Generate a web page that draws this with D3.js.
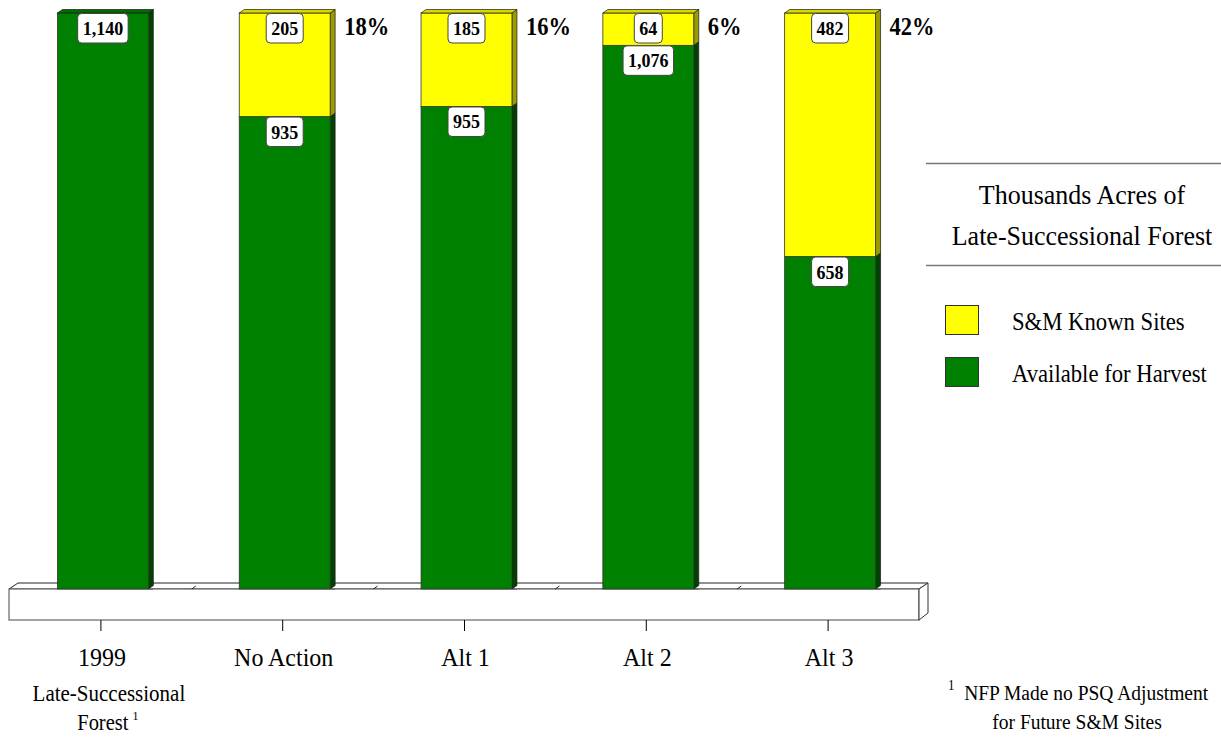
<!DOCTYPE html>
<html>
<head>
<meta charset="utf-8">
<script src="https://cdn.jsdelivr.net/npm/d3@7"></script>
<style>
  html, body { margin: 0; padding: 0; background: #fff; }
  svg { display: block; }
  text { font-family: "Liberation Serif", "Times New Roman", serif; fill: #000; }
</style>
</head>
<body>
<svg id="chart" width="1221" height="738"></svg>
<script>
// Late-successional forest acreage (thousands of acres) by alternative
const categories = ["1999", "No Action", "Alt 1", "Alt 2", "Alt 3"];
const availableForHarvest = [1140, 935, 955, 1076, 658];
const smKnownSites = [0, 205, 185, 64, 482];
const seriesNames = ["S&M Known Sites", "Available for Harvest"];
const subLabels = [["Late-Successional", "Forest"], [], [], [], []];

const W = 1221, H = 738;
const svg = d3.select("#chart");

const floorY = 589;       // front edge of the platform top
const depthX = 5, depthY = 3.5;

const x = d3.scaleBand()
  .domain(categories)
  .range([12, 921])
  .paddingInner(0.5)
  .paddingOuter(0.25);

const y = d3.scaleLinear()
  .domain([0, 1140])
  .range([floorY, 13]);

const colors = {
  green: { front: "#008000", side: "#004200", top: "#006c00" },
  yellow: { front: "#ffff00", side: "#9c9c00", top: "#d8d800" }
};

// Text with the slightly tall serif look of the original
function addText(parent, px, py, str, size, anchor, weight) {
  return parent.append("text")
    .attr("transform", `translate(${px},${py}) scale(1,1.08)`)
    .attr("text-anchor", anchor || "middle")
    .style("font-size", size + "px")
    .style("font-weight", weight || "normal")
    .text(str);
}

// ---- Platform (floor) ----
const floor = svg.append("g").attr("class", "floor");
const fx0 = 9, fx1 = 919, fBottom = 620;
floor.append("polygon")
  .attr("points", [[fx0, floorY], [fx0 + 9, floorY - 6], [fx1 + 9, floorY - 6], [fx1, floorY]].join(" "))
  .attr("fill", "#fff").attr("stroke", "#222").attr("stroke-width", 1);
floor.append("rect")
  .attr("x", fx0).attr("y", floorY).attr("width", fx1 - fx0).attr("height", fBottom - floorY)
  .attr("fill", "#fff").attr("stroke", "#666").attr("stroke-width", 1.2);
floor.append("polygon")
  .attr("points", [[fx1, floorY], [fx1 + 9, floorY - 6], [fx1 + 9, fBottom - 7], [fx1, fBottom]].join(" "))
  .attr("fill", "#fff").attr("stroke", "#333").attr("stroke-width", 1);

// small gridline stubs on the floor between categories
categories.slice(1).forEach(c => {
  const bx = x(c) - x.step() * x.paddingInner() / 2;
  floor.append("line")
    .attr("x1", bx - 2).attr("y1", floorY).attr("x2", bx + 2).attr("y2", floorY - 3)
    .attr("stroke", "#222").attr("stroke-width", 1);
});

// category ticks below the platform
categories.forEach(c => {
  const cx = x(c) + x.bandwidth() / 2 - 2;
  floor.append("line")
    .attr("x1", cx).attr("y1", fBottom).attr("x2", cx).attr("y2", fBottom + 11)
    .attr("stroke", "#000").attr("stroke-width", 1);
});

// ---- Stacked 3D bars ----
const stackData = categories.map((c, i) => ({
  cat: c,
  segments: [
    { key: "green", v0: 0, v1: availableForHarvest[i], value: availableForHarvest[i] },
    { key: "yellow", v0: availableForHarvest[i], v1: availableForHarvest[i] + smKnownSites[i], value: smKnownSites[i] }
  ].filter(s => s.value > 0)
}));

const bars = svg.append("g").attr("class", "bars");
stackData.forEach(d => {
  const bx = x(d.cat), bw = x.bandwidth();
  const g = bars.append("g");
  d.segments.forEach((s, si) => {
    const top = y(s.v1), bot = y(s.v0);
    const col = colors[s.key];
    // side face
    g.append("polygon")
      .attr("points", [[bx + bw, top], [bx + bw + depthX, top - depthY], [bx + bw + depthX, bot - depthY], [bx + bw, bot]].join(" "))
      .attr("fill", col.side).attr("stroke", "#1a1a1a").attr("stroke-width", 0.7);
    // front face
    g.append("rect")
      .attr("x", bx).attr("y", top).attr("width", bw).attr("height", bot - top)
      .attr("fill", col.front).attr("stroke", "#333").attr("stroke-width", 0.8);
    // top face on the highest segment
    if (si === d.segments.length - 1) {
      g.append("polygon")
        .attr("points", [[bx, top], [bx + depthX, top - depthY], [bx + bw + depthX, top - depthY], [bx + bw, top]].join(" "))
        .attr("fill", col.top).attr("stroke", "#1a1a1a").attr("stroke-width", 0.7);
    }
  });
  // bottom shadow line
  g.append("line")
    .attr("x1", bx).attr("x2", bx + bw + depthX).attr("y1", floorY + 0.5).attr("y2", floorY + 0.5)
    .attr("stroke", "#777").attr("stroke-width", 1);
});

// ---- Value labels in rounded boxes ----
const labels = svg.append("g").attr("class", "value-labels");
stackData.forEach(d => {
  const cx = x(d.cat) + x.bandwidth() / 2;
  d.segments.forEach(s => {
    const top = y(s.v1);
    const lg = labels.append("g");
    const box = lg.append("rect");
    const t = addText(lg, cx, top + 22, d3.format(",")(s.value), 18, "middle", "bold");
    const tw = t.node().getComputedTextLength();
    box.attr("x", cx - tw / 2 - 5).attr("y", top + 0.5)
      .attr("width", tw + 10).attr("height", 29.5)
      .attr("rx", 4).attr("ry", 4)
      .attr("fill", "#fff").attr("stroke", "#444").attr("stroke-width", 1);
  });
});

// ---- Percent of total held as S&M known sites ----
const pct = svg.append("g").attr("class", "pct");
categories.forEach((c, i) => {
  if (smKnownSites[i] <= 0) return;
  const total = availableForHarvest[i] + smKnownSites[i];
  const p = Math.round(smKnownSites[i] / total * 100);
  addText(pct, x(c) + x.bandwidth() + 14, 35, p + "%", 22.5, "start", "bold");
});

// ---- Category labels ----
const xl = svg.append("g").attr("class", "x-labels");
categories.forEach((c, i) => {
  const cx = x(c) + x.bandwidth() / 2 - 1;
  addText(xl, cx, 666, c, 24, "middle");
  if (subLabels[i].length) {
    addText(xl, cx + 7, 701, subLabels[i][0], 21, "middle");
    const t = addText(xl, cx + 6, 730, subLabels[i][1], 20.5, "middle");
    t.append("tspan").text("\u2009");
    t.append("tspan").attr("dy", -9).style("font-size", "12px").text("1");
  }
});

// ---- Legend ----
const leg = svg.append("g").attr("class", "legend");
leg.append("line").attr("x1", 926).attr("x2", W).attr("y1", 163.5).attr("y2", 163.5)
  .attr("stroke", "#777").attr("stroke-width", 1.5);
leg.append("line").attr("x1", 926).attr("x2", W).attr("y1", 265.5).attr("y2", 265.5)
  .attr("stroke", "#777").attr("stroke-width", 1.5);
addText(leg, 1082, 204, "Thousands Acres of", 26, "middle");
addText(leg, 1082, 245, "Late-Successional Forest", 26, "middle");

const legendItems = [
  { name: seriesNames[0], color: colors.yellow.front, y: 305 },
  { name: seriesNames[1], color: colors.green.front, y: 357 }
];
legendItems.forEach(it => {
  leg.append("rect").attr("x", 945.5).attr("y", it.y + 0.5).attr("width", 33).attr("height", 29)
    .attr("fill", it.color).attr("stroke", "#333").attr("stroke-width", 1);
  addText(leg, 1012, it.y + 25, it.name, 22.7, "start");
});

// ---- Footnote ----
const fn = svg.append("g").attr("class", "footnote");
const f1 = addText(fn, 1078, 700, "", 19.5, "middle");
f1.append("tspan").attr("dy", -9).style("font-size", "13px").text("1");
f1.append("tspan").attr("dy", 9).text("\u2002NFP Made no PSQ Adjustment");
addText(fn, 1077, 729, "for Future S&M Sites", 19.5, "middle");
</script>
</body>
</html>
